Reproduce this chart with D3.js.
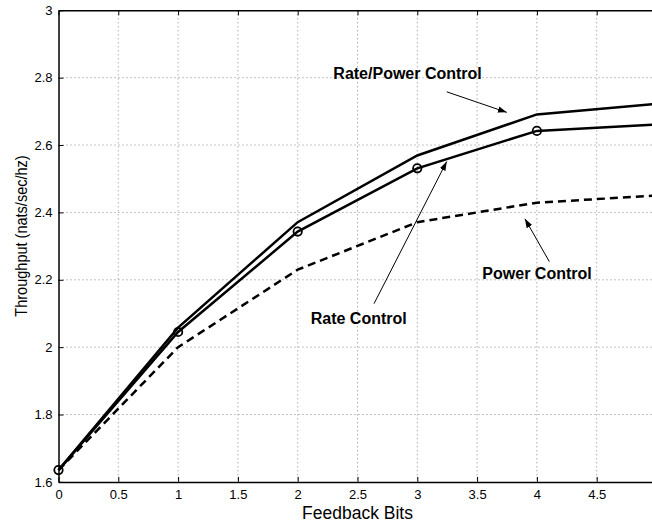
<!DOCTYPE html>
<html>
<head>
<meta charset="utf-8">
<script src="https://cdn.jsdelivr.net/npm/d3@7"></script>
<style>
  body { margin: 0; background: #fff; }
  text { font-family: "Liberation Sans", Arial, Helvetica, sans-serif; }
</style>
</head>
<body>
<div id="chart"></div>
<script>
// valores
const bits = [0, 1, 2, 3, 4, 5];
const ratePower = [1.635, 2.058, 2.371, 2.569, 2.691, 2.722];
const rateOnly = [1.635, 2.045, 2.343, 2.531, 2.642, 2.661];
const powerOnly = [1.635, 2.0, 2.23, 2.371, 2.429, 2.45];

const xTicks = [0, 0.5, 1, 1.5, 2, 2.5, 3, 3.5, 4, 4.5, 5];
const yTicks = [1.6, 1.8, 2, 2.2, 2.4, 2.6, 2.8, 3];

// etiquetas con flecha, en coordenadas de datos
const notes = [
  { txt: "Rate/Power Control", tx: 2.298, ty: 2.795, from: [3.246, 2.758], to: [3.748, 2.697] },
  { txt: "Rate Control", tx: 2.109, ty: 2.069, from: [2.638, 2.129], to: [3.246, 2.551] },
  { txt: "Power Control", tx: 3.544, ty: 2.203, from: [4.104, 2.254], to: [3.9, 2.381] }
];

const width = 652, height = 525;
const padLeft = 58.5, padTop = 10.3, plotW = 598, plotH = 471.6;

const svg = d3.select("#chart").append("svg")
  .attr("width", width)
  .attr("height", height);

const x = d3.scaleLinear().domain([0, 5]).range([padLeft, padLeft + plotW]);
const y = d3.scaleLinear().domain([1.6, 3]).range([padTop + plotH, padTop]);

svg.append("defs").append("marker")
  .attr("id", "head")
  .attr("viewBox", "0 0 10 10")
  .attr("refX", 10).attr("refY", 5)
  .attr("markerWidth", 9).attr("markerHeight", 9)
  .attr("markerUnits", "userSpaceOnUse")
  .attr("orient", "auto")
  .append("path")
  .attr("d", "M0,1.5L10,5L0,8.5Z")
  .attr("fill", "#000");

// rejilla punteada
const grid = svg.append("g");
grid.selectAll(".gx").data(xTicks.slice(1, -1)).join("line")
  .attr("x1", d => x(d)).attr("x2", d => x(d))
  .attr("y1", padTop).attr("y2", padTop + plotH)
  .attr("stroke", "#888").attr("stroke-width", 1).attr("stroke-dasharray", "1,3");
grid.selectAll(".gy").data(yTicks.slice(1, -1)).join("line")
  .attr("x1", padLeft).attr("x2", padLeft + plotW)
  .attr("y1", d => y(d)).attr("y2", d => y(d))
  .attr("stroke", "#888").attr("stroke-width", 1).attr("stroke-dasharray", "1,3");

// ejes
const xAxis = svg.append("g")
  .attr("transform", `translate(0,${padTop + plotH})`)
  .call(d3.axisBottom(x).tickValues(xTicks.slice(0, -1)).tickSizeInner(-5).tickSizeOuter(0).tickPadding(8)
    .tickFormat(d3.format("")));
const xTop = svg.append("g")
  .attr("transform", `translate(0,${padTop})`)
  .call(d3.axisTop(x).tickValues(xTicks.slice(0, -1)).tickSizeInner(-5).tickSizeOuter(0).tickFormat(""));
const yAxis = svg.append("g")
  .attr("transform", `translate(${padLeft},0)`)
  .call(d3.axisLeft(y).tickValues(yTicks).tickSizeInner(-5).tickSizeOuter(0).tickPadding(6)
    .tickFormat(d3.format("")));

[xAxis, xTop, yAxis].forEach(g => {
  g.select(".domain").attr("stroke", "#000").attr("stroke-width", 1.5);
  g.selectAll(".tick line").attr("stroke", "#000");
  g.selectAll("text").attr("fill", "#000").style("font-size", "13px")
    .style("font-family", "'Liberation Sans', Arial, sans-serif");
});

// curvas
const line = d3.line().x((d, i) => x(bits[i])).y(d => y(d));

svg.append("path").datum(powerOnly)
  .attr("d", line).attr("fill", "none")
  .attr("stroke", "#000").attr("stroke-width", 2.5).attr("stroke-dasharray", "8,5");

svg.append("path").datum(ratePower)
  .attr("d", line).attr("fill", "none")
  .attr("stroke", "#000").attr("stroke-width", 2.5);

svg.append("path").datum(rateOnly)
  .attr("d", line).attr("fill", "none")
  .attr("stroke", "#000").attr("stroke-width", 2.5);

svg.selectAll(".pt").data(rateOnly.slice(0, 5)).join("circle")
  .attr("cx", (d, i) => x(bits[i])).attr("cy", d => y(d))
  .attr("r", 4.2).attr("fill", "none")
  .attr("stroke", "#000").attr("stroke-width", 1.8);

// anotaciones
notes.forEach(n => {
  svg.append("line")
    .attr("x1", x(n.from[0])).attr("y1", y(n.from[1]))
    .attr("x2", x(n.to[0])).attr("y2", y(n.to[1]))
    .attr("stroke", "#000").attr("stroke-width", 1)
    .attr("marker-end", "url(#head)");
  svg.append("text")
    .attr("x", x(n.tx)).attr("y", y(n.ty))
    .style("font-size", "16px").style("font-weight", "bold")
    .text(n.txt);
});

// titulos de ejes
svg.append("text")
  .attr("x", x(2.5)).attr("y", 519)
  .attr("text-anchor", "middle")
  .style("font-size", "17.5px")
  .text("Feedback Bits");

// la figura original esta estirada en horizontal, por eso el scale
svg.append("text")
  .attr("transform", `translate(27,${y(2.33)}) rotate(-90) scale(0.88,1)`)
  .attr("text-anchor", "middle")
  .style("font-size", "16.5px")
  .text("Throughput (nats/sec/hz)");
</script>
</body>
</html>
